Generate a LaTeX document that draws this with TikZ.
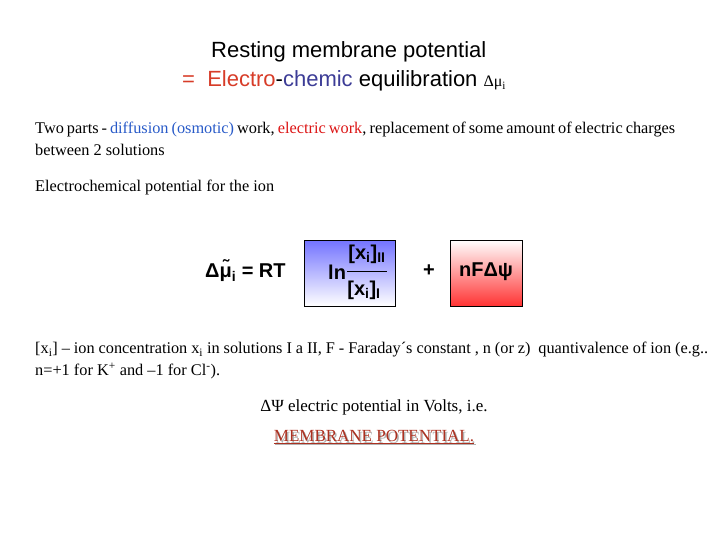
\documentclass[tikz,border=0pt]{standalone}
\usepackage{fontspec}
\setmainfont{Liberation Serif}
\setsansfont{Liberation Sans}
\definecolor{tred}{RGB}{215,60,40}
\definecolor{tblue}{RGB}{60,60,150}
\definecolor{wblue}{RGB}{40,90,200}
\definecolor{wred}{RGB}{220,20,20}
\begin{document}
\begin{tikzpicture}[x=1pt,y=-1pt,
  body/.style={font=\fontsize{16.3}{22}\selectfont, inner sep=0, anchor=west},
  ttl/.style={font=\sffamily\fontsize{22}{24}\selectfont, inner sep=0, anchor=west},
  eq/.style={font=\sffamily\bfseries\fontsize{20}{22}\selectfont, inner sep=0}]
\useasboundingbox (0,0) rectangle (720,540);
\node[ttl] (t1) at (211,52) {Resting membrane potential};
\node[ttl] (t2) at (182,81) {\textcolor{tred}{=\ \ Electro}-\textcolor{tblue}{chemic} equilibration {\rmfamily\fontsize{16}{18}\selectfont Δμ\textsubscript{i}}};
\node[body, text width=640pt, align=justify, anchor=north west] (p1) at (35,122) {Two parts - \textcolor{wblue}{diffusion (osmotic)} work, \textcolor{wred}{electric work}, replacement of some amount of electric charges between 2 solutions};
\node[body] (p2) at (35,187) {Electrochemical potential for the ion};
\shade[top color=blue!55!white, bottom color=white, draw=black, line width=0.4pt] (304,240) rectangle (395,306);
\shade[top color=white, bottom color=red!80!white, draw=black, line width=0.4pt] (450,240) rectangle (522,306);
\node[eq, anchor=west] (lhs) at (205,271) {Δ\~{μ}\textsubscript{i} = RT};
\node[eq, anchor=west] (ln) at (328,272) {ln};
\node[eq] (num) at (367,254) {[x\textsubscript{i}]\textsubscript{II}};
\node[eq] (den) at (364,290) {[x\textsubscript{i}]\textsubscript{I}};
\draw[line width=0.6pt] (347,271) -- (387,271);
\node[eq] (plus) at (429,271) {+};
\node[eq] (nf) at (486,272) {nFΔψ};
\node[body, text width=673pt, align=justify, anchor=north west] (p3) at (35,342) {[x\textsubscript{i}] – ion concentration x\textsubscript{i} in solutions I a II, F - Faraday´s constant , n (or z)\ \ quantivalence of ion (e.g.. n=+1 for K\textsuperscript{+} and –1 for Cl\textsuperscript{-}).};
\node[body, font=\fontsize{17}{20}\selectfont, anchor=center] (p4) at (374,407) {ΔΨ electric potential in Volts, i.e.};
\node[body, font=\fontsize{17}{20}\selectfont, anchor=center, text=gray!60] at (375.5,438.5) {\underline{MEMBRANE POTENTIAL.}};
\node[body, font=\fontsize{17}{20}\selectfont, anchor=center, text=tred!80!black] (p5) at (374,437) {\underline{MEMBRANE POTENTIAL.}};
\end{tikzpicture}
\end{document}
